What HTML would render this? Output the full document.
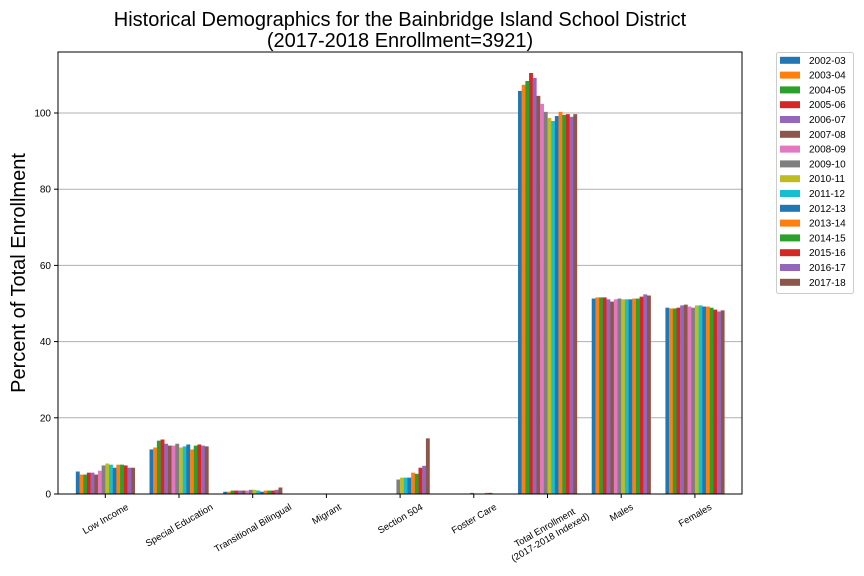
<!DOCTYPE html>
<html><head><meta charset="utf-8"><style>
body{margin:0;background:#fff;}
svg{display:block;font-family:"Liberation Sans","DejaVu Sans",sans-serif;}
</style></head><body>
<svg id="chart" width="864" height="576" viewBox="0 0 864 576" xmlns="http://www.w3.org/2000/svg">
<rect width="864" height="576" fill="#fff"/>
<text x="400" y="26" font-size="20" text-anchor="middle">Historical Demographics for the Bainbridge Island School District</text>
<text x="400" y="47" font-size="20" text-anchor="middle">(2017-2018 Enrollment=3921)</text>
<text transform="translate(25,273) rotate(-90)" font-size="20" text-anchor="middle">Percent of Total Enrollment</text>
<g id="grid"></g><g id="bars"></g><g id="axes"></g><g id="legend"></g>
</svg>
<script>
const categories=["Low Income","Special Education","Transitional Bilingual","Migrant","Section 504","Foster Care","Total Enrollment|(2017-2018 Indexed)","Males","Females"];
const seriesNames=["2002-03","2003-04","2004-05","2005-06","2006-07","2007-08","2008-09","2009-10","2010-11","2011-12","2012-13","2013-14","2014-15","2015-16","2016-17","2017-18"];
const lowIncome=[5.9,5.1,5.1,5.6,5.6,5.1,6.1,7.5,8.0,7.7,6.9,7.7,7.7,7.5,6.9,6.9];
const specialEd=[11.7,12.2,14.0,14.3,13.2,12.7,12.7,13.2,12.2,12.5,13.0,11.7,12.7,13.0,12.7,12.5];
const transBilingual=[0.6,0.6,0.9,0.9,0.9,0.9,0.9,1.1,1.1,0.9,0.6,0.9,0.9,0.9,1.1,1.7];
const migrant=[0,0,0,0,0,0,0,0,0,0,0,0,0,0,0,0];
const section504=[0,0,0,0,0,0,0,3.8,4.3,4.3,4.3,5.6,5.3,6.9,7.4,14.6];
const fosterCare=[0,0,0,0,0,0,0,0.3,0,0,0,0.3,0.3,0,0,0];
const totalEnroll=[105.8,107.4,108.4,110.5,109.2,104.5,102.4,100.3,98.7,97.9,99.2,100.3,99.5,99.7,99.0,99.7];
const males=[51.3,51.6,51.6,51.6,51.1,50.5,51.1,51.3,51.1,51.1,51.1,51.3,51.3,51.8,52.4,52.1];
const females=[48.9,48.7,48.7,48.9,49.5,49.7,49.2,48.9,49.5,49.5,49.2,49.2,48.9,48.4,47.9,48.2];
const yTicks=[0,20,40,60,80,100];
const colors=["#1f77b4","#ff7f0e","#2ca02c","#d62728","#9467bd","#8c564b","#e377c2","#7f7f7f","#bcbd22","#17becf","#1f77b4","#ff7f0e","#2ca02c","#d62728","#9467bd","#8c564b"];
const groups=[lowIncome,specialEd,transBilingual,migrant,section504,fosterCare,totalEnroll,males,females];
const NS="http://www.w3.org/2000/svg";
const L=58,R=742,T=52,B=494;
const xPos=i=>105.3+73.7*i;
const yPos=v=>B-v*3.81;
function mk(tag,attrs,parent){const e=document.createElementNS(NS,tag);for(const k in attrs)e.setAttribute(k,attrs[k]);parent.appendChild(e);return e;}
const grid=document.getElementById('grid'),bars=document.getElementById('bars'),axes=document.getElementById('axes'),leg=document.getElementById('legend');
yTicks.forEach(t=>{
  if(t>0){const g=mk('line',{x1:L,x2:R,y1:yPos(t),y2:yPos(t),stroke:'#b0b0b0','stroke-width':1},grid);
  
  }
  const tk=mk('line',{x1:L-4,x2:L,y1:yPos(t),y2:yPos(t),stroke:'#000'},axes);
  
  
  const tx=mk('text',{x:L-7,y:yPos(t)+3.5,'font-size':10,'text-anchor':'end'},axes);
  
  
  tx.textContent=t;
});
const bw=73.7*0.8/16;
const s30=0.5,c30=Math.sqrt(3)/2;
groups.forEach((vals,gi)=>{
  const c=xPos(gi);
  vals.forEach((v,si)=>{
    const x=c-73.7*0.4+si*bw;
    const r=mk('rect',{x:x,y:yPos(v),width:bw+0.2,height:Math.max(0,B-yPos(v)),fill:colors[si]},bars);
    
    
  });
  const tk=mk('line',{x1:c,x2:c,y1:B,y2:B+4,stroke:'#000'},axes);
  
  
  const lines=categories[gi].split('|');
  const t=mk('text',{'font-size':9.5,'text-anchor':'middle'},axes);
  
  
  let h;
  if(lines.length>1){
    lines.forEach((ln,k)=>{const s=mk('tspan',{x:0,y:k?8.5:-2.5},t);s.textContent=ln;});
    h=22;
  } else {t.setAttribute('y',3.5);t.textContent=lines[0];h=11;}
  const w=t.getComputedTextLength?Math.max(...Array.from(t.querySelectorAll('tspan')).map(s=>s.getComputedTextLength()),t.getComputedTextLength()/(lines.length)):60;
  const bh=w*s30+h*c30;
  t.setAttribute('transform',`translate(${c},${B+7+bh/2}) rotate(-30)`);
});
const fr=mk('rect',{x:L,y:T,width:R-L,height:B-T,fill:'none',stroke:'#000','stroke-width':1},axes);


const lb=mk('rect',{x:776.5,y:52.5,width:77,height:241,fill:'#fff',stroke:'#ccc',rx:2},leg);


seriesNames.forEach((n,i)=>{
  const y=60.3+i*14.8;
  const p=mk('rect',{x:780,y:y-3.5,width:20,height:7,fill:colors[i]},leg);
  
  
  const t=mk('text',{x:809,y:y+3.5,'font-size':10},leg);
  
  
  t.textContent=n;
});
</script>
</body></html>
